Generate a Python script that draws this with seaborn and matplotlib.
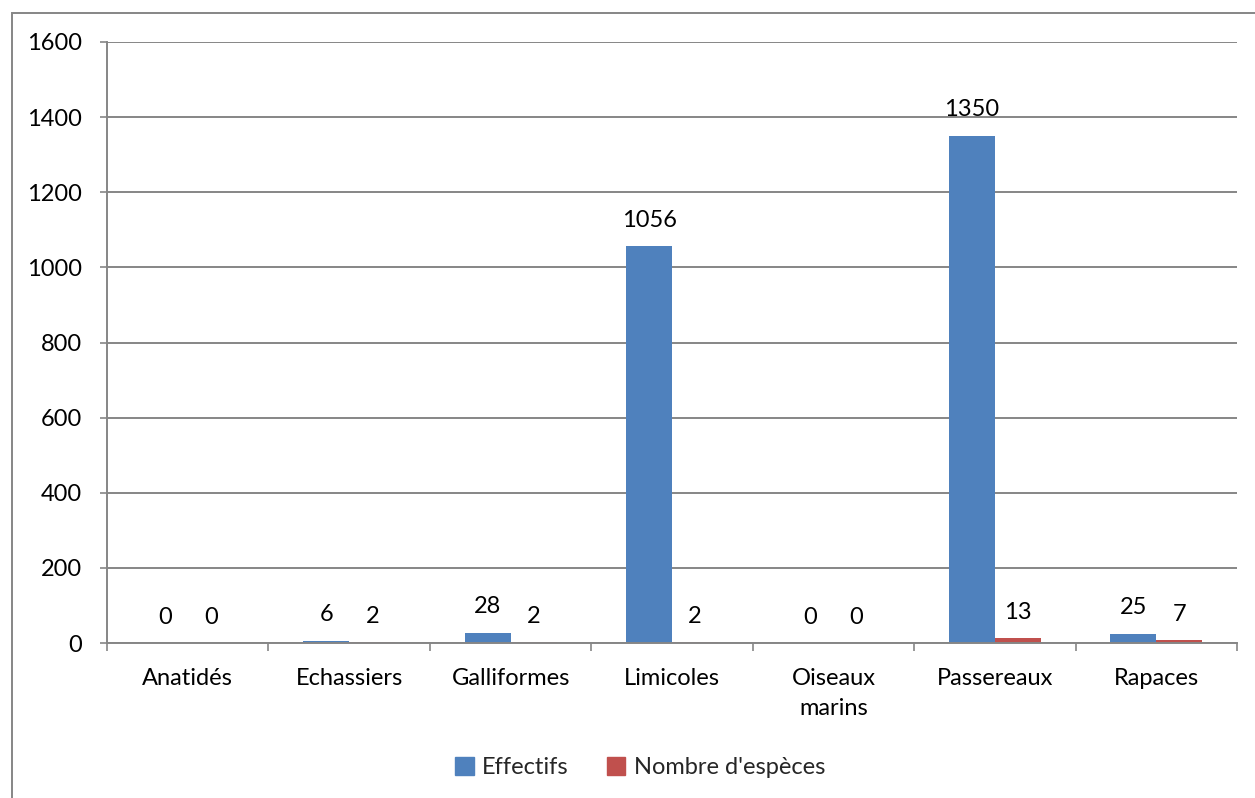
import matplotlib
matplotlib.use("Agg")
import matplotlib.pyplot as plt
import matplotlib.patches as mpatches
import numpy as np
import pandas as pd
import seaborn as sns

categories = ["Anatidés", "Echassiers", "Galliformes", "Limicoles",
              "Oiseaux\nmarins", "Passereaux", "Rapaces"]
effectifs = [0, 6, 28, 1056, 0, 1350, 25]
nb_especes = [0, 2, 2, 2, 0, 13, 7]
series = ["Effectifs", "Nombre d'espèces"]
colors = ["#4F81BD", "#C0504D"]
yticks = [0, 200, 400, 600, 800, 1000, 1200, 1400, 1600]

sns.set_theme(style="white")
plt.rcParams["font.family"] = ["Lato", "DejaVu Sans"]
FS = 17

df = pd.DataFrame({
    "categorie": categories * 2,
    "serie": [series[0]] * len(categories) + [series[1]] * len(categories),
    "valeur": effectifs + nb_especes,
})

fig = plt.figure(figsize=(12.55, 7.98), dpi=100)
ax = fig.add_axes([0.0853, 0.1942, 0.9004, 0.7532])

sns.barplot(data=df, x="categorie", y="valeur", hue="serie", order=categories,
            hue_order=series, palette=colors, width=0.57, saturation=1,
            errorbar=None, ax=ax, legend=False, linewidth=0)

grid_c = "#868686"
ax.set_ylim(0, 1600)
ax.set_xlim(-0.5, len(categories) - 0.5)
ax.set_yticks(yticks)
ax.set_yticklabels([str(v) for v in yticks], fontsize=FS, color="black")
ax.yaxis.grid(True, color=grid_c, linewidth=1.4)
ax.set_axisbelow(True)
ax.tick_params(axis="y", direction="out", length=5, width=1.2, color=grid_c,
               pad=13, left=True)

ax.set_xticks(range(len(categories)))
ax.set_xticklabels(categories, fontsize=FS, color="black", linespacing=1.55)
ax.set_xticks(np.arange(-0.5, len(categories), 1.0), minor=True)
ax.tick_params(axis="x", which="major", length=0, pad=18)
ax.tick_params(axis="x", which="minor", direction="out", length=6, width=1.2,
               color=grid_c, bottom=True)
ax.set_xlabel("")
ax.set_ylabel("")

for side in ["top", "right"]:
    ax.spines[side].set_visible(False)
for side in ["left", "bottom"]:
    ax.spines[side].set_color(grid_c)
    ax.spines[side].set_linewidth(1.4)

# value labels above each bar
for container, vals in zip(ax.containers, [effectifs, nb_especes]):
    for bar, v in zip(container, vals):
        x = bar.get_x() + bar.get_width() / 2
        ax.annotate(str(v), (x, v), xytext=(0, 14), textcoords="offset points",
                    ha="center", va="baseline", fontsize=FS, color="black")

handles = [mpatches.Patch(color=c, label=s) for c, s in zip(colors, series)]
fig.legend(handles=handles, loc="center", bbox_to_anchor=(0.51, 0.038),
           ncol=2, frameon=False, fontsize=FS, handlelength=0.8,
           handleheight=0.8, handletextpad=0.35, columnspacing=1.6)

# chart area frame
fig.patches.append(mpatches.Rectangle((12 / 1255, -0.05), 1.1, 1 - 13 / 798 + 0.05,
                                      transform=fig.transFigure, fill=False,
                                      edgecolor=grid_c, linewidth=1.4))

fig.savefig("out.png", dpi=100)
